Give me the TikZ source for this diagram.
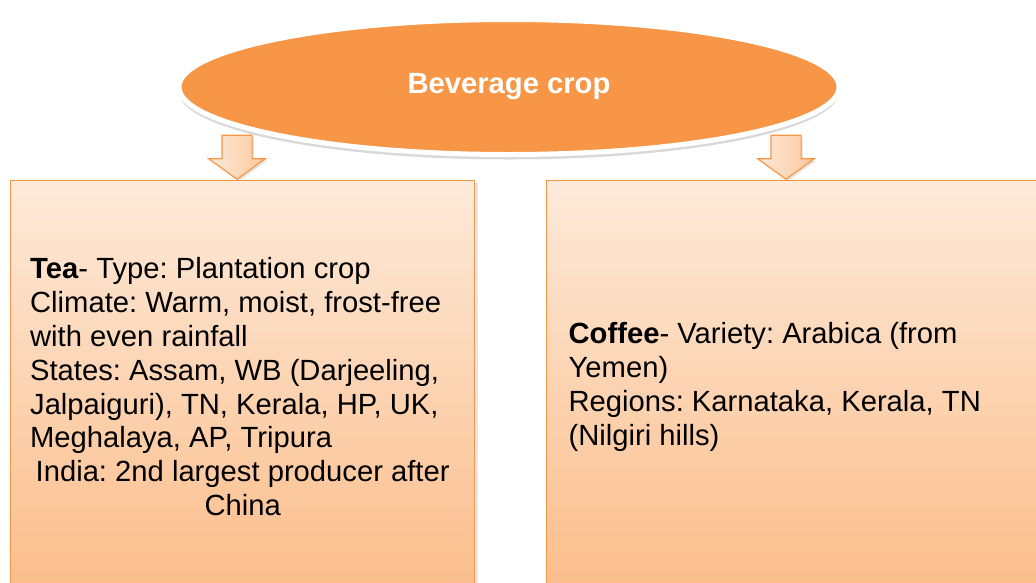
\documentclass[tikz,border=0pt]{standalone}
\usepackage{fontspec}
\setmainfont{Liberation Sans}
\usetikzlibrary{shapes.geometric, shapes.arrows, shadows, positioning, calc}
\definecolor{croporange}{HTML}{F79646}
\definecolor{peachlight}{HTML}{FDEADA}
\definecolor{peachdark}{HTML}{FBBD8A}
\definecolor{arrowdark}{HTML}{FBC79C}

\begin{document}
\begin{tikzpicture}[x=1pt, y=-1pt,
  topic/.style={ellipse, draw=white, line width=5pt, fill=croporange, minimum width=660pt, minimum height=135pt, text=white, font=\fontsize{29.2}{33}\selectfont\bfseries, drop shadow={shadow xshift=0pt, shadow yshift=-5pt, opacity=0.3}},
  infobox/.style={rectangle, draw=croporange, line width=1.3pt, top color=peachlight, bottom color=peachdark, minimum height=412pt, inner sep=0pt, font=\fontsize{29.2}{33.9}\selectfont\frenchspacing, drop shadow={shadow xshift=3pt, shadow yshift=-2pt, opacity=0.2}},
  downarrow/.style={single arrow, draw=croporange, line width=1.2pt, left color=peachlight, right color=arrowdark, minimum height=44pt, inner xsep=0pt, inner ysep=14.5pt, single arrow head extend=13pt, single arrow tip angle=108, rotate=-90, drop shadow={shadow xshift=2pt, shadow yshift=-2pt, opacity=0.2}}
]
  \useasboundingbox (0,0) rectangle (1036,582);
  \clip (0,0) rectangle (1036,582);

  % Topic
  \node[topic] (crop) at (509,87) {Beverage crop};

  % Boxes
  \node[infobox, minimum width=464pt, anchor=north west] (tea) at (10,180) {%
    \begin{minipage}{425pt}\raggedright
      \textbf{Tea}- Type: Plantation crop\\
      Climate: Warm, moist, frost-free\\
      with even rainfall\\
      States: Assam, WB (Darjeeling,\\
      Jalpaiguri), TN, Kerala, HP, UK,\\
      Meghalaya, AP, Tripura\par
      \centering India: 2nd largest producer after\\
      China
    \end{minipage}};
  \node[infobox, minimum width=500pt, anchor=north west] (coffee) at (546,180) {%
    \begin{minipage}{456pt}\raggedright
      \textbf{Coffee}- Variety: Arabica (from\\
      Yemen)\\
      Regions: Karnataka, Kerala, TN\\
      (Nilgiri hills)
    \end{minipage}};

  % Arrows
  \coordinate (teadrop) at ($(crop.center)+(-272,0)$);
  \coordinate (coffeedrop) at ($(crop.center)+(277,0)$);
  \node[downarrow, anchor=tip] (teaarrow) at (teadrop |- tea.north) {};
  \node[downarrow, anchor=tip] (coffeearrow) at (coffeedrop |- coffee.north) {};
\end{tikzpicture}
\end{document}
